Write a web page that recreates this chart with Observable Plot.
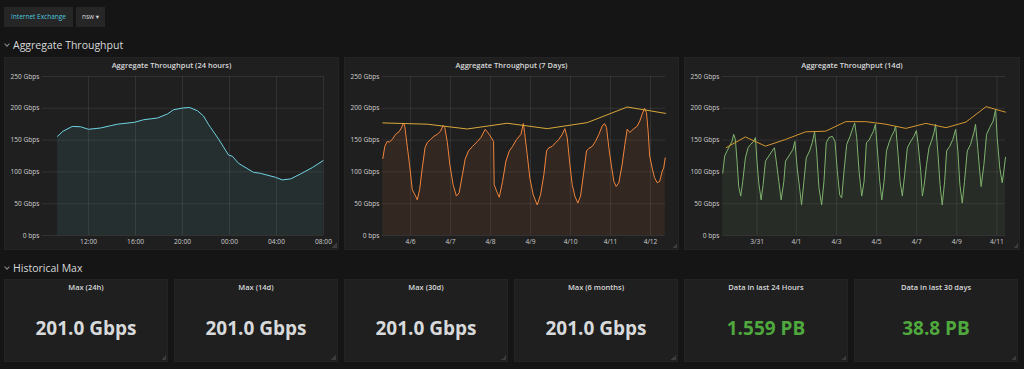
<!DOCTYPE html>
<html>
<head>
<meta charset="utf-8">
<script src="https://cdn.jsdelivr.net/npm/d3@7"></script>
<script src="https://cdn.jsdelivr.net/npm/@observablehq/plot@0.6"></script>
<style>
  html, body { margin: 0; padding: 0; }
  body { background: #151515; width: 1024px; height: 369px; overflow: hidden; position: relative;
         font-family: "Open Sans", "DejaVu Sans", sans-serif; color: #d8d9da; }
  .btn { position: absolute; top: 7px; height: 20px; background: #262626; font-size: 6.5px;
         line-height: 20px; text-align: center; }
  .section { position: absolute; left: 13px; font-size: 10.5px; color: #d8d9da; line-height: 14px; }
  .chev { position: absolute; left: -8px; top: 4px; width: 3px; height: 3px;
          border-right: 1px solid #8a8a8a; border-bottom: 1px solid #8a8a8a; transform: rotate(45deg); }
  .panel { position: absolute; background: #1f1f1f; outline: 1px solid #242424; outline-offset: -1px; }
  .ptitle { position: absolute; left: 0; right: 0; text-align: center; font-weight: 600;
            font-size: 7.5px; color: #d8d9da; line-height: 10px; }
  .value { position: absolute; left: 0; right: 0; text-align: center; font-weight: 700;
           font-size: 19px; line-height: 24px; top: 37px; }
  .grip { position: absolute; right: 2px; bottom: 2px; width: 5px; height: 5px;
          background: linear-gradient(135deg, transparent 50%, #3c3c3c 50%); }
</style>
</head>
<body>
<div class="btn" style="left:4px;width:69px;color:#4fc3dd;">Internet Exchange</div>
<div class="btn" style="left:76px;width:29px;color:#d8d9da;">nsw ▾</div>
<div class="section" style="top:38px;"><span class="chev"></span>Aggregate Throughput</div>
<div class="section" style="top:261px;"><span class="chev"></span>Historical Max</div>
<div id="root"></div>
<script>
// ---------- data ----------
const yTicks = [0, 50, 100, 150, 200, 250];
const yTickLabels = ["0 bps", "50 Gbps", "100 Gbps", "150 Gbps", "200 Gbps", "250 Gbps"];

const panelTitles = ["Aggregate Throughput (24 hours)", "Aggregate Throughput (7 Days)", "Aggregate Throughput (14d)"];

// 24 hours
const day24Domain = ["2018-04-11 08:05", "2018-04-12 08:00"];
const day24Ticks = ["2018-04-11 12:00", "2018-04-11 16:00", "2018-04-11 20:00", "2018-04-12 00:00", "2018-04-12 04:00", "2018-04-12 08:00"];
const day24TickLabels = ["12:00", "16:00", "20:00", "00:00", "04:00", "08:00"];
const day24Times = [
  "2018-04-11 09:22", "2018-04-11 09:50", "2018-04-11 10:37", "2018-04-11 11:19", "2018-04-11 12:00",
  "2018-04-11 13:01", "2018-04-11 13:52", "2018-04-11 14:28", "2018-04-11 15:55", "2018-04-11 16:41",
  "2018-04-11 17:52", "2018-04-11 18:43", "2018-04-11 19:14", "2018-04-11 20:00", "2018-04-11 20:36",
  "2018-04-11 21:17", "2018-04-11 21:47", "2018-04-11 22:12", "2018-04-11 22:23", "2018-04-11 23:04",
  "2018-04-11 23:55", "2018-04-12 00:15", "2018-04-12 00:46", "2018-04-12 02:02", "2018-04-12 02:38",
  "2018-04-12 03:55", "2018-04-12 04:30", "2018-04-12 05:12", "2018-04-12 06:03", "2018-04-12 07:04",
  "2018-04-12 07:58"
];
const day24Values = [
  156, 164, 171.5, 171, 167,
  169, 172.6, 175, 178, 182,
  184.7, 191, 197.7, 200.4, 201.4,
  196, 188, 175, 170, 151.7,
  126.6, 124.5, 113.5, 99.4, 97.8,
  91.5, 87.4, 89, 96.8, 107,
  117.7
];

// 7 days
const week7Domain = ["2018-04-05 07:08", "2018-04-12 09:00"];
const week7Ticks = ["2018-04-06 00:00", "2018-04-07 00:00", "2018-04-08 00:00", "2018-04-09 00:00", "2018-04-10 00:00", "2018-04-11 00:00", "2018-04-12 00:00"];
const week7TickLabels = ["4/6", "4/7", "4/8", "4/9", "4/10", "4/11", "4/12"];
const week7Times = [
  "2018-04-05 07:20", "2018-04-05 08:30", "2018-04-05 10:00", "2018-04-05 11:20", "2018-04-05 13:00", "2018-04-05 15:00", "2018-04-05 17:00", "2018-04-05 18:30", "2018-04-05 19:40", "2018-04-05 20:30", "2018-04-05 22:00", "2018-04-05 23:20",
  "2018-04-06 01:00", "2018-04-06 03:00", "2018-04-06 04:00", "2018-04-06 05:25", "2018-04-06 07:00", "2018-04-06 08:40", "2018-04-06 10:00", "2018-04-06 12:00", "2018-04-06 14:00", "2018-04-06 16:00", "2018-04-06 18:00", "2018-04-06 19:26", "2018-04-06 20:30", "2018-04-06 22:05", "2018-04-06 23:30",
  "2018-04-07 01:30", "2018-04-07 03:30", "2018-04-07 05:07", "2018-04-07 07:08", "2018-04-07 08:44", "2018-04-07 10:45", "2018-04-07 13:09", "2018-04-07 16:10", "2018-04-07 18:10", "2018-04-07 20:47", "2018-04-07 23:12",
  "2018-04-08 01:48", "2018-04-08 02:10", "2018-04-08 03:36", "2018-04-08 05:14", "2018-04-08 07:12", "2018-04-08 09:14", "2018-04-08 11:17", "2018-04-08 13:12", "2018-04-08 15:36", "2018-04-08 18:14", "2018-04-08 19:40", "2018-04-08 20:25", "2018-04-08 22:00", "2018-04-08 23:36",
  "2018-04-09 01:36", "2018-04-09 04:00", "2018-04-09 06:00", "2018-04-09 08:00", "2018-04-09 09:36", "2018-04-09 11:00", "2018-04-09 13:00", "2018-04-09 15:00", "2018-04-09 17:00", "2018-04-09 19:00", "2018-04-09 20:36", "2018-04-09 22:00", "2018-04-09 23:36",
  "2018-04-10 01:00", "2018-04-10 02:36", "2018-04-10 04:24", "2018-04-10 06:00", "2018-04-10 08:00", "2018-04-10 09:36", "2018-04-10 11:00", "2018-04-10 13:00", "2018-04-10 15:00", "2018-04-10 17:00", "2018-04-10 19:00", "2018-04-10 20:24", "2018-04-10 21:36", "2018-04-10 23:00",
  "2018-04-11 00:24", "2018-04-11 02:00", "2018-04-11 03:24", "2018-04-11 05:00", "2018-04-11 07:00", "2018-04-11 08:36", "2018-04-11 10:00", "2018-04-11 11:36", "2018-04-11 13:36", "2018-04-11 16:00", "2018-04-11 17:36", "2018-04-11 19:00", "2018-04-11 20:24", "2018-04-11 21:36", "2018-04-11 22:34", "2018-04-11 23:31",
  "2018-04-12 01:00", "2018-04-12 02:24", "2018-04-12 04:00", "2018-04-12 05:31", "2018-04-12 07:00", "2018-04-12 07:55", "2018-04-12 08:50"
];
const week7Values = [
  121, 140, 148, 147, 151, 159, 163, 169, 177, 172, 140, 112,
  72, 62, 56, 72, 106, 138, 146, 151, 156, 159, 164, 173, 170, 146, 112,
  80, 62, 67, 96, 120, 133, 140, 148, 154, 167, 159,
  148, 80, 70, 60, 85, 117, 133, 140, 151, 159, 176, 162, 127, 90,
  64, 48, 64, 96, 133, 138, 140, 146, 151, 159, 168, 154, 112,
  80, 62, 51, 62, 101, 133, 137, 140, 148, 159, 172, 176, 170, 138,
  112, 85, 77, 83, 112, 143, 167, 162, 167, 172, 180, 191, 200, 193, 164, 125,
  106, 91, 83, 85, 101, 106, 122
];
const week7MaxTimes = ["2018-04-05 07:20", "2018-04-06 10:00", "2018-04-07 10:00", "2018-04-08 10:00", "2018-04-09 10:00", "2018-04-10 10:00", "2018-04-11 10:00", "2018-04-12 09:00"];
const week7MaxValues = [177, 175, 167.5, 176.5, 168, 177.5, 202, 192];

// 14 days
const fortnightDomain = ["2018-03-29 06:36", "2018-04-12 09:14"];
const fortnightTicks = ["2018-03-31 00:00", "2018-04-01 23:00", "2018-04-03 23:00", "2018-04-05 23:00", "2018-04-07 23:00", "2018-04-09 23:00", "2018-04-11 23:00"];
const fortnightTickLabels = ["3/31", "4/1", "4/3", "4/5", "4/7", "4/9", "4/11"];
const fortnightTimes = [
  "2018-03-29 06:50", "2018-03-29 09:12", "2018-03-29 12:00", "2018-03-29 14:48", "2018-03-29 18:00", "2018-03-29 20:00", "2018-03-29 22:00",
  "2018-03-30 00:00", "2018-03-30 02:00", "2018-03-30 04:24", "2018-03-30 06:48", "2018-03-30 10:00", "2018-03-30 13:12", "2018-03-30 16:00", "2018-03-30 20:00", "2018-03-30 22:00",
  "2018-03-31 00:00", "2018-03-31 02:00", "2018-03-31 04:48", "2018-03-31 07:12", "2018-03-31 10:00", "2018-03-31 14:00", "2018-03-31 18:00", "2018-03-31 20:48", "2018-03-31 23:12",
  "2018-04-01 02:00", "2018-04-01 04:48", "2018-04-01 08:00", "2018-04-01 10:00", "2018-04-01 14:00", "2018-04-01 18:48", "2018-04-01 21:12",
  "2018-04-02 00:00", "2018-04-02 02:48", "2018-04-02 05:12", "2018-04-02 08:00", "2018-04-02 10:48", "2018-04-02 14:48", "2018-04-02 18:00", "2018-04-02 20:48", "2018-04-02 23:12",
  "2018-04-03 02:00", "2018-04-03 05:12", "2018-04-03 08:00", "2018-04-03 10:48", "2018-04-03 14:00", "2018-04-03 18:00", "2018-04-03 21:12",
  "2018-04-04 00:00", "2018-04-04 02:48", "2018-04-04 05:12", "2018-04-04 08:00", "2018-04-04 11:12", "2018-04-04 15:12", "2018-04-04 18:48", "2018-04-04 20:48", "2018-04-04 23:12",
  "2018-04-05 02:00", "2018-04-05 05:12", "2018-04-05 08:00", "2018-04-05 10:48", "2018-04-05 14:00", "2018-04-05 16:05", "2018-04-05 19:12", "2018-04-05 21:36",
  "2018-04-06 00:00", "2018-04-06 02:47", "2018-04-06 05:11", "2018-04-06 07:55", "2018-04-06 10:48", "2018-04-06 13:55", "2018-04-06 16:48", "2018-04-06 19:55", "2018-04-06 21:50",
  "2018-04-07 00:43", "2018-04-07 03:07", "2018-04-07 05:46", "2018-04-07 08:38", "2018-04-07 11:46", "2018-04-07 15:50", "2018-04-07 19:41", "2018-04-07 22:34",
  "2018-04-08 00:29", "2018-04-08 03:50", "2018-04-08 05:46", "2018-04-08 07:41", "2018-04-08 10:48", "2018-04-08 13:41", "2018-04-08 16:34", "2018-04-08 19:41", "2018-04-08 21:36",
  "2018-04-09 00:29", "2018-04-09 02:53", "2018-04-09 05:31", "2018-04-09 08:24", "2018-04-09 10:48", "2018-04-09 14:24", "2018-04-09 18:14", "2018-04-09 21:36",
  "2018-04-10 00:14", "2018-04-10 02:38", "2018-04-10 05:31", "2018-04-10 08:10", "2018-04-10 11:31", "2018-04-10 15:22", "2018-04-10 19:26", "2018-04-10 21:22",
  "2018-04-11 00:00", "2018-04-11 02:24", "2018-04-11 04:05", "2018-04-11 07:26", "2018-04-11 10:34", "2018-04-11 14:24", "2018-04-11 18:29", "2018-04-11 21:22", "2018-04-11 23:17",
  "2018-04-12 02:24", "2018-04-12 05:17", "2018-04-12 07:12", "2018-04-12 09:14"
];
const fortnightValues = [
  98, 125, 133, 140, 148, 159, 151,
  117, 77, 62, 85, 122, 138, 143, 148, 154,
  114, 83, 56, 80, 117, 125, 133, 138, 114,
  85, 56, 85, 117, 125, 135, 148,
  106, 75, 48, 85, 122, 133, 146, 163, 133,
  75, 48, 85, 146, 154, 156, 148,
  101, 64, 59, 101, 143, 156, 170, 177, 154,
  101, 62, 85, 146, 150, 156, 164, 175,
  133, 85, 56, 85, 133, 146, 156, 164, 172,
  127, 85, 62, 96, 138, 148, 156, 165,
  146, 101, 62, 77, 112, 138, 148, 162, 175,
  127, 80, 48, 85, 133, 140, 151, 167,
  133, 80, 51, 85, 133, 143, 162, 175,
  138, 101, 77, 112, 159, 170, 180, 198, 154,
  106, 83, 101, 123
];
const fortnightMaxTimes = ["2018-03-29 10:48", "2018-03-30 10:00", "2018-03-31 10:00", "2018-04-01 10:00", "2018-04-02 10:00", "2018-04-03 10:00", "2018-04-04 10:00", "2018-04-05 10:00", "2018-04-06 10:00", "2018-04-07 10:00", "2018-04-08 10:00", "2018-04-09 10:00", "2018-04-10 10:00", "2018-04-11 10:00", "2018-04-12 09:14"];
const fortnightMaxValues = [138, 155, 140.5, 151, 163, 164, 179, 179, 175, 168.4, 176.3, 169.5, 178.4, 202.6, 194];

// stat panels
const statTitles = ["Max (24h)", "Max (14d)", "Max (30d)", "Max (6 months)", "Data in last 24 Hours", "Data in last 30 days"];
const statValues = ["201.0 Gbps", "201.0 Gbps", "201.0 Gbps", "201.0 Gbps", "1.559 PB", "38.8 PB"];

// ---------- rendering ----------
const parse = d3.utcParse("%Y-%m-%d %H:%M");
const root = document.getElementById("root");

function series(times, values) {
  return times.map((t, i) => ({t: parse(t), v: values[i]}));
}

function addGrip(p) {
  const g = document.createElement("div");
  g.className = "grip";
  p.appendChild(g);
}

function graphPanel(cfg) {
  const p = document.createElement("div");
  p.className = "panel";
  Object.assign(p.style, {left: cfg.left + "px", top: "57px", width: cfg.width + "px", height: "193px"});
  const title = document.createElement("div");
  title.className = "ptitle";
  title.style.top = "3px";
  title.textContent = cfg.title;
  p.appendChild(title);

  const tickDates = cfg.ticks.map(parse);
  const tickKeys = tickDates.map(d => +d);
  const marks = [
    Plot.ruleY(yTicks, {stroke: "#ffffff", strokeOpacity: 0.085}),
    Plot.ruleX(tickDates, {stroke: "#ffffff", strokeOpacity: 0.085}),
    Plot.areaY(cfg.data, {x: "t", y: "v", fill: cfg.color, fillOpacity: 0.09}),
    Plot.lineY(cfg.data, {x: "t", y: "v", stroke: cfg.color, strokeWidth: 1})
  ];
  if (cfg.max) marks.push(Plot.lineY(cfg.max, {x: "t", y: "v", stroke: cfg.maxColor, strokeWidth: 1}));

  const svg = Plot.plot({
    width: cfg.width,
    height: 178,
    marginLeft: 38,
    marginRight: cfg.marginRight,
    marginTop: 6,
    marginBottom: 13,
    style: {background: "transparent", color: "#cdcdcd", fontSize: "6.6px", fontFamily: "'Open Sans', sans-serif", overflow: "visible"},
    x: {type: "utc", domain: cfg.domain.map(parse), ticks: tickDates, tickSize: 0, tickPadding: 4,
        tickFormat: d => cfg.tickLabels[tickKeys.indexOf(+d)], label: null},
    y: {domain: [0, 250], ticks: yTicks, tickSize: 0, tickPadding: 3,
        tickFormat: d => yTickLabels[yTicks.indexOf(d)], label: null},
    marks
  });
  svg.style.position = "absolute";
  svg.style.left = "0px";
  svg.style.top = "13px";
  p.appendChild(svg);
  addGrip(p);
  root.appendChild(p);
}

graphPanel({left: 4, width: 335, marginRight: 16, title: panelTitles[0],
  domain: day24Domain, ticks: day24Ticks, tickLabels: day24TickLabels,
  data: series(day24Times, day24Values), color: "#6ed0e0"});
graphPanel({left: 344, width: 335, marginRight: 14, title: panelTitles[1],
  domain: week7Domain, ticks: week7Ticks, tickLabels: week7TickLabels,
  data: series(week7Times, week7Values), color: "#ef843c",
  max: series(week7MaxTimes, week7MaxValues), maxColor: "#d9a83a"});
graphPanel({left: 684, width: 336, marginRight: 15, title: panelTitles[2],
  domain: fortnightDomain, ticks: fortnightTicks, tickLabels: fortnightTickLabels,
  data: series(fortnightTimes, fortnightValues), color: "#7eb26d",
  max: series(fortnightMaxTimes, fortnightMaxValues), maxColor: "#d4972f"});

const statLefts = [4, 174, 344, 514, 684, 854];
statTitles.forEach((t, i) => {
  const p = document.createElement("div");
  p.className = "panel";
  Object.assign(p.style, {left: statLefts[i] + "px", top: "279px", width: "164px", height: "83px"});
  const title = document.createElement("div");
  title.className = "ptitle";
  title.style.top = "3px";
  title.textContent = t;
  const val = document.createElement("div");
  val.className = "value";
  val.textContent = statValues[i];
  val.style.color = statValues[i].endsWith("PB") ? "#4fa83d" : "#d8d9da";
  p.appendChild(title);
  p.appendChild(val);
  addGrip(p);
  root.appendChild(p);
});
</script>
</body>
</html>
